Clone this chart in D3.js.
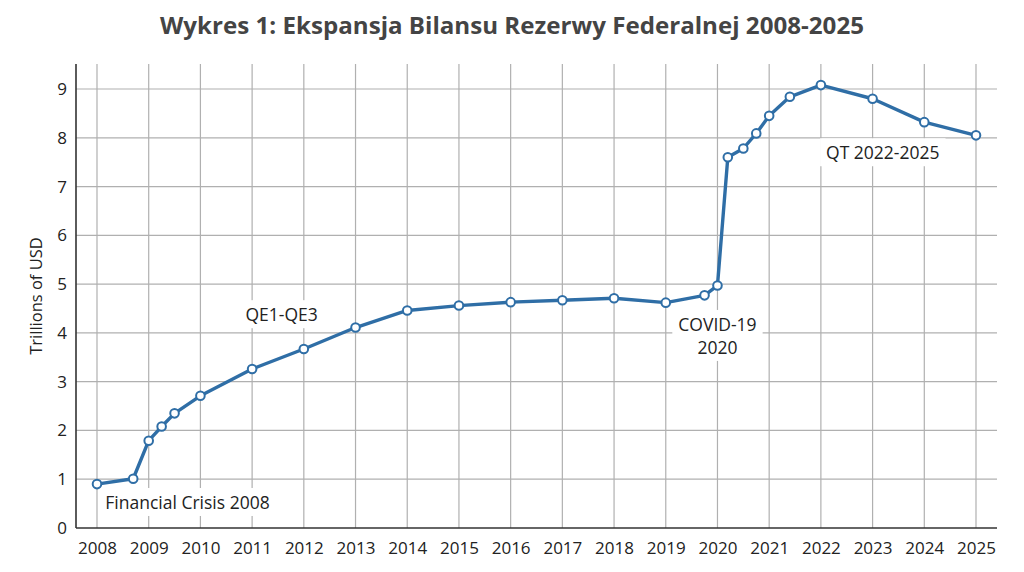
<!doctype html>
<html>
<head>
<meta charset="utf-8">
<style>
  body { margin: 0; background: #fff; }
  text { font-family: "Open Sans", "Noto Sans", sans-serif; fill: #222; }
</style>
</head>
<body>
  <svg id="chart"></svg>
<script src="https://d3js.org/d3.v7.min.js"></script>
<script>
  // balance sheet, trillions of USD
  const dates = [2008.0, 2008.7, 2009.0, 2009.25, 2009.5, 2010.0, 2011.0, 2012.0, 2013.0, 2014.0,
                 2015.0, 2016.0, 2017.0, 2018.0, 2019.0, 2019.75, 2020.0, 2020.2, 2020.5, 2020.75,
                 2021.0, 2021.4, 2022.0, 2023.0, 2024.0, 2025.0];
  const values = [0.90, 1.01, 1.79, 2.08, 2.35, 2.71, 3.26, 3.67, 4.11, 4.46,
                  4.56, 4.63, 4.67, 4.71, 4.62, 4.77, 4.97, 7.60, 7.78, 8.09,
                  8.45, 8.84, 9.08, 8.80, 8.32, 8.05];
  const yearTicks = d3.range(2008, 2026);
  const valueTicks = d3.range(0, 10);

  const notes = [
    { lines: ["Financial Crisis 2008"], x: 2008.16, y: 0.39, anchor: "start" },
    { lines: ["QE1-QE3"], x: 2011.57, y: 4.24, anchor: "middle" },
    { lines: ["COVID-19", "2020"], x: 2020.0, y: 4.04, anchor: "middle" },
    { lines: ["QT 2022-2025"], x: 2022.1, y: 7.56, anchor: "start" }
  ];

  const width = 1024, height = 572;
  const margin = { top: 64, right: 27, bottom: 44, left: 76 };

  const svg = d3.select("#chart").attr("width", width).attr("height", height);

  const x = d3.scaleLinear()
    .domain([2008, 2025])
    .range([97, 976]);
  const y = d3.scaleLinear()
    .domain([0, 9])
    .range([528, 89]);

  const right = width - margin.right;
  const bottom = 528;

  svg.append("text")
    .attr("x", width / 2)
    .attr("y", 34)
    .attr("text-anchor", "middle")
    .style("font-size", "23px")
    .style("font-weight", "bold")
    .style("fill", "#444")
    .attr("textLength", 704)
    .attr("lengthAdjust", "spacingAndGlyphs")
    .text("Wykres 1: Ekspansja Bilansu Rezerwy Federalnej 2008-2025");

  const grid = svg.append("g").attr("class", "grid");

  grid.selectAll("line.h")
    .data(valueTicks.filter(d => d > 0))
    .enter()
    .append("line")
    .attr("class", "h")
    .attr("x1", margin.left)
    .attr("x2", right)
    .attr("y1", d => y(d))
    .attr("y2", d => y(d))
    .attr("stroke", "#b0b0b0")
    .attr("stroke-width", 1.2);

  grid.selectAll("line.v")
    .data(yearTicks)
    .enter()
    .append("line")
    .attr("class", "v")
    .attr("x1", d => x(d))
    .attr("x2", d => x(d))
    .attr("y1", margin.top)
    .attr("y2", bottom)
    .attr("stroke", "#b0b0b0")
    .attr("stroke-width", 1.2);

  // axes
  const xAxis = svg.append("g")
    .attr("transform", `translate(0,${bottom})`)
    .call(d3.axisBottom(x).tickValues(yearTicks).tickFormat(d3.format("d")).tickSize(0).tickPadding(14));
  xAxis.select(".domain").remove();
  xAxis.selectAll("text").style("font-size", "17px").style("fill", "#222");

  const yAxis = svg.append("g")
    .attr("transform", `translate(${margin.left},0)`)
    .call(d3.axisLeft(y).tickValues(valueTicks).tickSize(0).tickPadding(9));
  yAxis.select(".domain").remove();
  yAxis.selectAll("text").style("font-size", "17px").style("fill", "#222");

  svg.append("line")
    .attr("x1", margin.left).attr("x2", margin.left)
    .attr("y1", margin.top).attr("y2", bottom)
    .attr("stroke", "#333").attr("stroke-width", 1.6);
  svg.append("line")
    .attr("x1", margin.left).attr("x2", right)
    .attr("y1", bottom).attr("y2", bottom)
    .attr("stroke", "#333").attr("stroke-width", 1.6);

  svg.append("text")
    .attr("transform", `translate(42,${(margin.top + bottom) / 2}) rotate(-90)`)
    .attr("text-anchor", "middle")
    .style("font-size", "16.5px")
    .text("Trillions of USD");

  // annotations on white boxes
  const noteG = svg.append("g");
  notes.forEach(n => {
    const g = noteG.append("g");
    const t = g.append("text")
      .attr("text-anchor", n.anchor)
      .style("font-size", "17.5px");
    n.lines.forEach((l, i) => {
      t.append("tspan")
        .attr("x", x(n.x))
        .attr("y", y(n.y) + i * 23)
        .text(l);
    });
    const bb = t.node().getBBox();
    g.insert("rect", "text")
      .attr("x", bb.x - 6).attr("y", bb.y - 2)
      .attr("width", bb.width + 12).attr("height", bb.height + 4)
      .attr("fill", "#fff");
  });

  const line = d3.line()
    .x((d, i) => x(dates[i]))
    .y(d => y(d));

  svg.append("path")
    .datum(values)
    .attr("fill", "none")
    .attr("stroke", "#2f6ea6")
    .attr("stroke-width", 3.4)
    .attr("stroke-linejoin", "round")
    .attr("d", line);

  svg.append("g")
    .selectAll("circle")
    .data(values)
    .enter()
    .append("circle")
    .attr("cx", (d, i) => x(dates[i]))
    .attr("cy", d => y(d))
    .attr("r", 4.3)
    .attr("fill", "#fff")
    .attr("stroke", "#2f6ea6")
    .attr("stroke-width", 2);
</script>
</body>
</html>
